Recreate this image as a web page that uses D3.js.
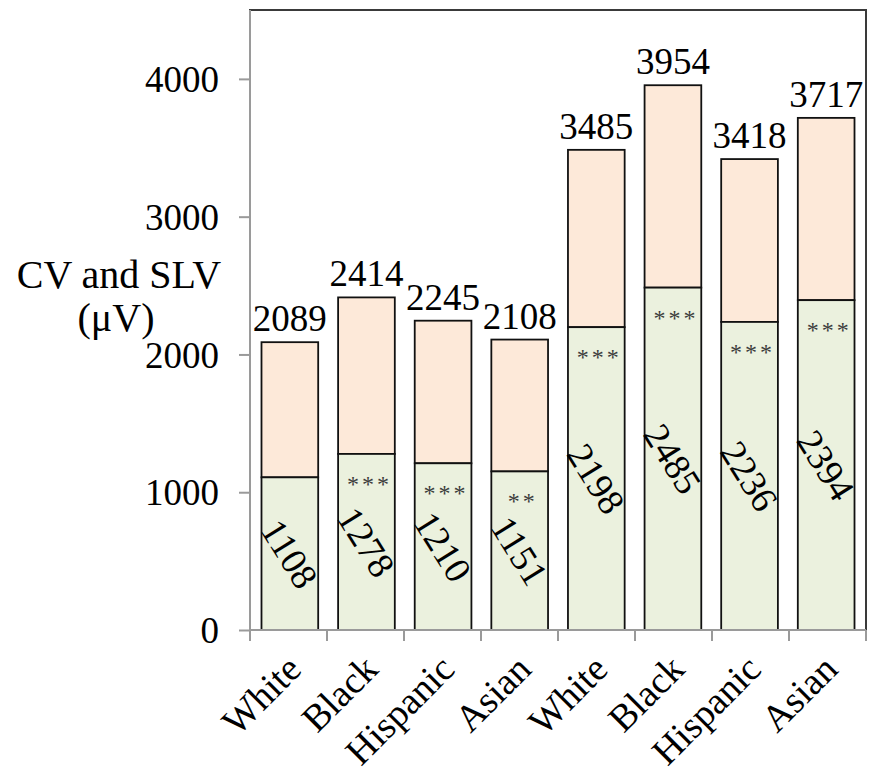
<!DOCTYPE html>
<html>
<head>
<meta charset="utf-8">
<script src="https://cdn.jsdelivr.net/npm/d3@7"></script>
<style>
  html, body { margin: 0; padding: 0; background: #fff; }
  svg { display: block; }
  text { font-family: "Liberation Serif", "DejaVu Serif", serif; fill: #000; }
</style>
</head>
<body>
<svg id="chart" width="871" height="783"></svg>
<script>
// Group labels along the x axis
const categories = ["White", "Black", "Hispanic", "Asian", "White", "Black", "Hispanic", "Asian"];
// CV amplitude (lower segment), µV
const cvValues = [1108, 1278, 1210, 1151, 2198, 2485, 2236, 2394];
// CV + SLV total (top of each stacked bar), µV
const totalValues = [2089, 2414, 2245, 2108, 3485, 3954, 3418, 3717];
// Significance markers shown inside the CV segment
const significance = ["", "***", "***", "**", "***", "***", "***", "***"];
// Y axis ticks
const yTicks = [0, 1000, 2000, 3000, 4000];
const yMax = 4500;

const svg = d3.select("#chart");
const margin = { left: 250, right: 5, top: 10, bottom: 153 };
const W = 871, H = 783;
const x0 = margin.left, x1 = W - margin.right;
const yTop = margin.top, yBot = H - margin.bottom;

const idx = d3.range(categories.length);
const x = d3.scaleBand().domain(idx).range([x0, x1]).paddingInner(0.26).paddingOuter(0.15);
const y = d3.scaleLinear().domain([0, yMax]).range([yBot, yTop]);

const cvColor = "#ebf1de";
const slvColor = "#fde9d9";
const axisColor = "#9a9a9a";

// plot frame (top and right edges)
svg.append("rect")
  .attr("x", x0).attr("y", yTop)
  .attr("width", x1 - x0).attr("height", yBot - yTop)
  .attr("fill", "none").attr("stroke", "#3a3a3a").attr("stroke-width", 2);

// SLV segment: from CV up to the total
svg.append("g").selectAll("rect").data(idx).join("rect")
  .attr("x", i => x(i)).attr("width", x.bandwidth())
  .attr("y", i => y(totalValues[i]))
  .attr("height", i => y(cvValues[i]) - y(totalValues[i]))
  .attr("fill", slvColor).attr("stroke", "#111").attr("stroke-width", 1.8);

// CV segment
svg.append("g").selectAll("rect").data(idx).join("rect")
  .attr("x", i => x(i)).attr("width", x.bandwidth())
  .attr("y", i => y(cvValues[i]))
  .attr("height", i => y(0) - y(cvValues[i]))
  .attr("fill", cvColor).attr("stroke", "#111").attr("stroke-width", 1.8);

// total labels
svg.append("g").selectAll("text").data(idx).join("text")
  .attr("x", i => x(i) + x.bandwidth() / 2)
  .attr("y", i => y(totalValues[i]) - 11)
  .attr("text-anchor", "middle")
  .attr("font-size", 37)
  .text(i => totalValues[i]);

// CV labels, rotated inside the lower segment
svg.append("g").selectAll("text").data(idx).join("text")
  .attr("transform", i => {
    const cx = x(i) + x.bandwidth() / 2;
    const cy = (y(cvValues[i]) + y(0)) / 2;
    return `translate(${cx},${cy}) rotate(58)`;
  })
  .attr("text-anchor", "middle")
  .attr("dy", "0.35em")
  .attr("font-size", 37)
  .text(i => cvValues[i]);

// significance asterisks
svg.append("g").selectAll("text").data(idx.filter(i => significance[i])).join("text")
  .attr("x", i => x(i) + x.bandwidth() / 2 + 3)
  .attr("y", i => y(cvValues[i]) + 38)
  .attr("text-anchor", "middle")
  .attr("font-size", 24)
  .attr("letter-spacing", 3)
  .style("fill", "#3c3c3c")
  .text(i => significance[i]);

// y axis
const yAxis = svg.append("g")
  .attr("transform", `translate(${x0},0)`)
  .call(d3.axisLeft(y).tickValues(yTicks).tickSize(11).tickPadding(20).tickFormat(d3.format("d")));
yAxis.attr("font-family", null);
yAxis.select(".domain").attr("stroke", axisColor).attr("stroke-width", 2).attr("d", `M0,${yTop}V${yBot}`);
yAxis.selectAll(".tick line").attr("stroke", axisColor).attr("stroke-width", 2);
yAxis.selectAll(".tick text")
  .attr("font-size", 37).attr("fill", "#000").attr("dy", "0.34em");

// x axis: ticks at category boundaries
const boundaries = d3.range(categories.length + 1).map(k => x0 + k * (x1 - x0) / categories.length);
svg.append("line")
  .attr("x1", x0).attr("x2", x1).attr("y1", yBot).attr("y2", yBot)
  .attr("stroke", axisColor).attr("stroke-width", 2);
svg.append("g").selectAll("line").data(boundaries).join("line")
  .attr("x1", d => d).attr("x2", d => d)
  .attr("y1", yBot).attr("y2", yBot + 11)
  .attr("stroke", axisColor).attr("stroke-width", 2);

// rotated category labels
svg.append("g").selectAll("text").data(idx).join("text")
  .attr("transform", i => `translate(${x(i) + x.bandwidth() / 2 + 4},${yBot + 32}) rotate(-45)`)
  .attr("text-anchor", "end")
  .attr("dy", "0.35em")
  .attr("font-size", 38)
  .text(i => categories[i]);

// y axis title
const title = svg.append("text")
  .attr("text-anchor", "middle")
  .attr("font-size", 40);
title.append("tspan").attr("x", 119).attr("y", 288).text("CV and SLV");
title.append("tspan").attr("x", 116).attr("y", 331).text("(\u03bcV)");
</script>
</body>
</html>
